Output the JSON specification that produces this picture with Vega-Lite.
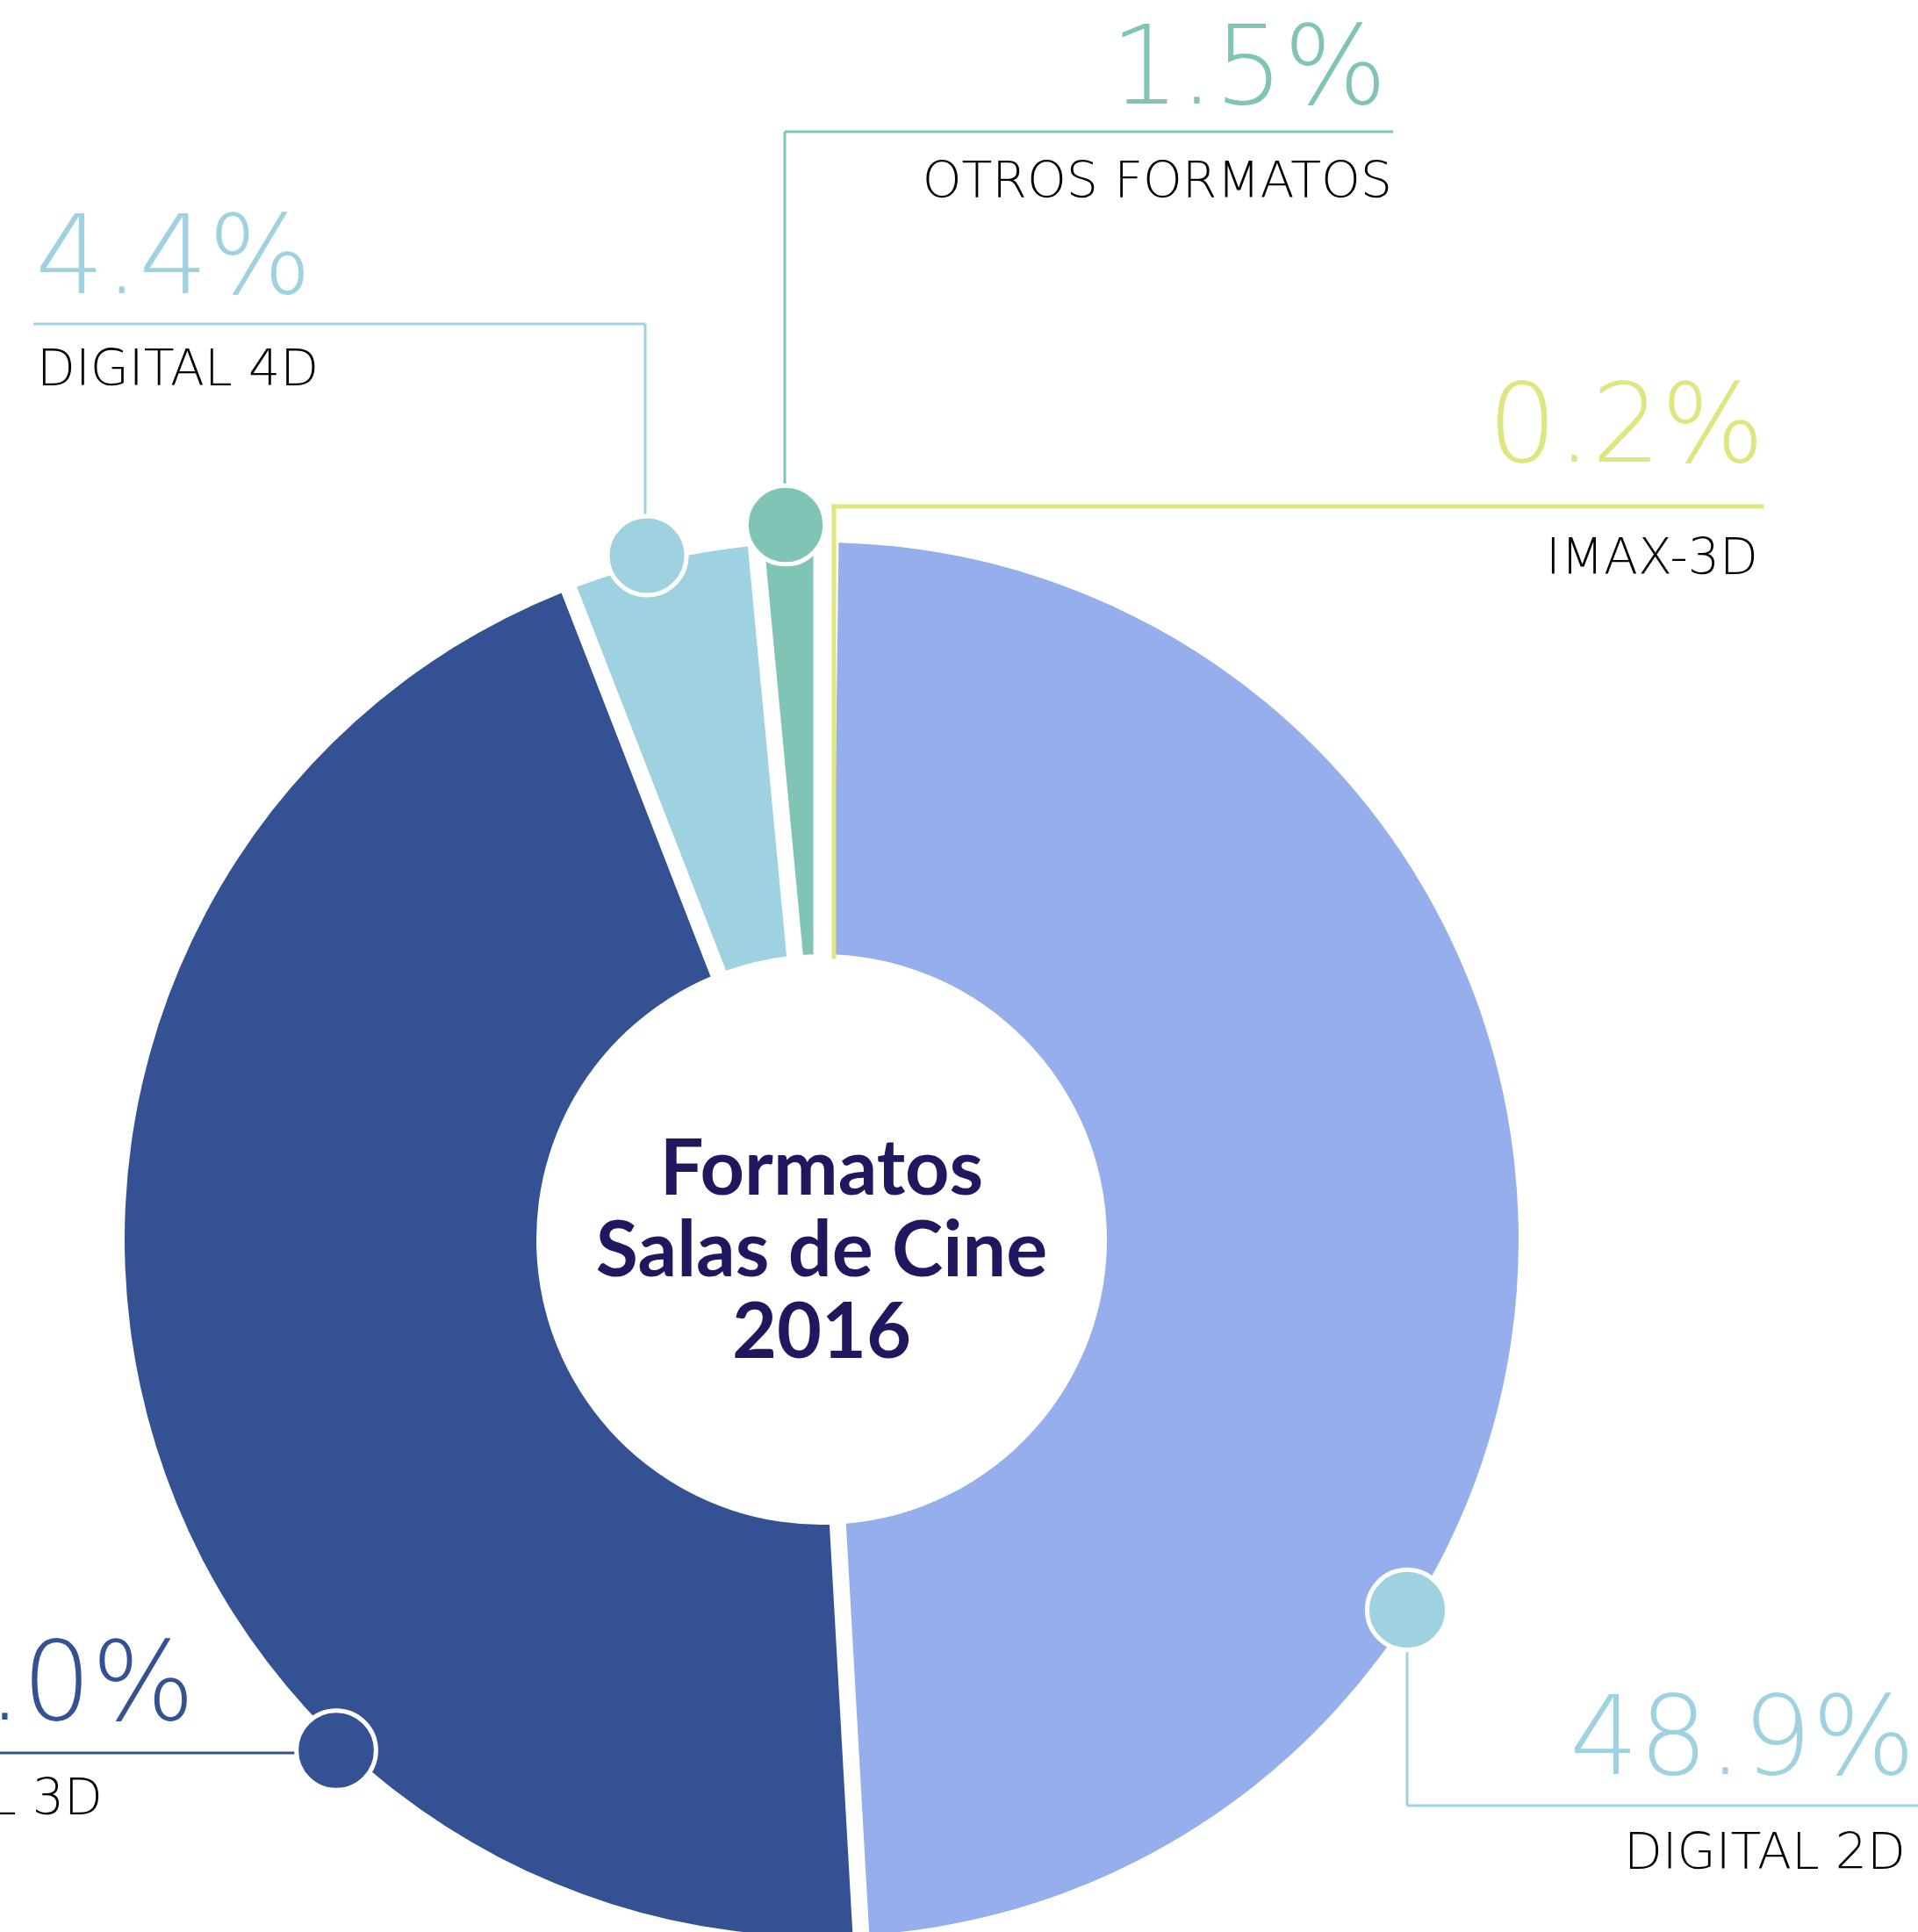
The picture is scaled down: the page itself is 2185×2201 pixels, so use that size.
{
  "$schema": "https://vega.github.io/schema/vega-lite/v6.json",
  "width": 2185,
  "height": 2201,
  "padding": 0,
  "autosize": {"type": "none"},
  "background": "#ffffff",
  "config": {"view": {"stroke": null}},
  "datasets": {
    "slices": [
      {"formato": "IMAX-3D", "pct": 0.2, "k": 1},
      {"formato": "DIGITAL 2D", "pct": 48.9, "k": 2},
      {"formato": "DIGITAL 3D", "pct": 45.0, "k": 3},
      {"formato": "DIGITAL 4D", "pct": 4.4, "k": 4},
      {"formato": "OTROS FORMATOS", "pct": 1.5, "k": 5}
    ],
    "leaders": [
      {"formato": "OTROS FORMATOS", "x": 894, "y": 150, "x2": 1587, "y2": 150},
      {"formato": "OTROS FORMATOS", "x": 894, "y": 150, "x2": 894, "y2": 597},
      {"formato": "DIGITAL 4D", "x": 38, "y": 369, "x2": 735, "y2": 369},
      {"formato": "DIGITAL 4D", "x": 735, "y": 369, "x2": 735, "y2": 633},
      {"formato": "IMAX-3D", "x": 950, "y": 577, "x2": 2007, "y2": 577},
      {"formato": "IMAX-3D", "x": 950, "y": 577, "x2": 950, "y2": 1090},
      {"formato": "DIGITAL 2D", "x": 1603, "y": 1834, "x2": 1603, "y2": 2057},
      {"formato": "DIGITAL 2D", "x": 1603, "y": 2057, "x2": 2185, "y2": 2057},
      {"formato": "DIGITAL 3D", "x": 0, "y": 1997, "x2": 383, "y2": 1997}
    ],
    "dots": [
      {"formato": "OTROS FORMATOS", "x": 895, "y": 598},
      {"formato": "DIGITAL 4D", "x": 737, "y": 633},
      {"formato": "DIGITAL 2D", "x": 1603, "y": 1834},
      {"formato": "DIGITAL 3D", "x": 383, "y": 1994}
    ],
    "labels": [
      {"formato": "OTROS FORMATOS", "valor": "1.5%", "x": 1580, "y": 118, "ny": 225, "nx": 1586, "lado": "der"},
      {"formato": "DIGITAL 4D", "valor": "4.4%", "x": 40, "y": 334, "ny": 439, "nx": 42, "lado": "izq"},
      {"formato": "IMAX-3D", "valor": "0.2%", "x": 2010, "y": 526, "ny": 654, "nx": 2003, "lado": "der"},
      {"formato": "DIGITAL 2D", "valor": "48.9%", "x": 2182, "y": 2021, "ny": 2129, "nx": 2171, "lado": "der"},
      {"formato": "DIGITAL 3D", "valor": "45.0%", "x": 222, "y": 1959, "ny": 2067, "nx": 117, "lado": "der"}
    ]
  },
  "resolve": {"scale": {"color": "independent", "size": "independent"}},
  "layer": [
    {
      "data": {"name": "slices"},
      "mark": {"type": "arc", "outerRadius": 794, "innerRadius": 325, "padAngle": 0.022},
      "encoding": {
        "x": {"datum": 936, "type": "quantitative", "scale": {"domain": [0, 2185], "nice": false, "zero": false}, "axis": null},
        "y": {"datum": 1412, "type": "quantitative", "scale": {"domain": [0, 2201], "nice": false, "zero": false, "reverse": true}, "axis": null},
        "theta": {"field": "pct", "type": "quantitative", "stack": true},
        "order": {"field": "k", "type": "quantitative"},
        "color": {
          "field": "formato", "type": "nominal", "legend": null,
          "scale": {"domain": ["IMAX-3D", "DIGITAL 2D", "DIGITAL 3D", "DIGITAL 4D", "OTROS FORMATOS"],
                    "range": ["#DDE67F", "#96AEEB", "#335193", "#9ED2E0", "#80C4B6"]}
        }
      }
    },
    {
      "data": {"name": "leaders"},
      "transform": [{"filter": "datum.formato != 'IMAX-3D'"}],
      "mark": {"type": "rule", "strokeWidth": 3},
      "encoding": {
        "x": {"field": "x", "type": "quantitative", "axis": null},
        "y": {"field": "y", "type": "quantitative", "axis": null},
        "x2": {"field": "x2"},
        "y2": {"field": "y2"},
        "color": {
          "field": "formato", "type": "nominal", "legend": null,
          "scale": {"domain": ["IMAX-3D", "DIGITAL 2D", "DIGITAL 3D", "DIGITAL 4D", "OTROS FORMATOS"],
                    "range": ["#DDE67F", "#9ED2E0", "#335193", "#9ED2E0", "#80C4B6"]}
        }
      }
    },
    {
      "data": {"name": "leaders"},
      "transform": [{"filter": "datum.formato == 'IMAX-3D'"}],
      "mark": {"type": "rule", "strokeWidth": 5, "strokeCap": "square", "color": "#DDE67F"},
      "encoding": {
        "x": {"field": "x", "type": "quantitative", "axis": null},
        "y": {"field": "y", "type": "quantitative", "axis": null},
        "x2": {"field": "x2"},
        "y2": {"field": "y2"}
      }
    },
    {
      "data": {"name": "dots"},
      "mark": {"type": "point", "shape": "circle", "filled": true, "opacity": 1, "stroke": "#ffffff", "strokeWidth": 5},
      "encoding": {
        "x": {"field": "x", "type": "quantitative", "axis": null},
        "y": {"field": "y", "type": "quantitative", "axis": null},
        "fill": {
          "field": "formato", "type": "nominal", "legend": null,
          "scale": {"domain": ["DIGITAL 2D", "DIGITAL 3D", "DIGITAL 4D", "OTROS FORMATOS"],
                    "range": ["#9ED2E0", "#335193", "#9ED2E0", "#80C4B6"]}
        },
        "size": {
          "field": "formato", "type": "ordinal", "legend": null,
          "scale": {"domain": ["DIGITAL 2D", "DIGITAL 3D", "DIGITAL 4D", "OTROS FORMATOS"],
                    "range": [8332, 8012, 5945, 3117]}
        }
      }
    },
    {
      "data": {"name": "labels"},
      "transform": [{"filter": "datum.lado == 'der'"}],
      "mark": {"type": "text", "align": "right", "baseline": "alphabetic", "font": "DejaVu Sans", "fontWeight": 200, "fontSize": 124},
      "encoding": {
        "x": {"field": "x", "type": "quantitative", "axis": null},
        "y": {"field": "y", "type": "quantitative", "axis": null},
        "text": {"field": "valor"},
        "color": {
          "field": "formato", "type": "nominal", "legend": null,
          "scale": {"domain": ["IMAX-3D", "DIGITAL 2D", "DIGITAL 3D", "DIGITAL 4D", "OTROS FORMATOS"],
                    "range": ["#DDE67F", "#9ED2E0", "#335193", "#9ED2E0", "#80C4B6"]}
        }
      }
    },
    {
      "data": {"name": "labels"},
      "transform": [{"filter": "datum.lado == 'izq'"}],
      "mark": {"type": "text", "align": "left", "baseline": "alphabetic", "font": "DejaVu Sans", "fontWeight": 200, "fontSize": 124},
      "encoding": {
        "x": {"field": "x", "type": "quantitative", "axis": null},
        "y": {"field": "y", "type": "quantitative", "axis": null},
        "text": {"field": "valor"},
        "color": {
          "field": "formato", "type": "nominal", "legend": null,
          "scale": {"domain": ["IMAX-3D", "DIGITAL 2D", "DIGITAL 3D", "DIGITAL 4D", "OTROS FORMATOS"],
                    "range": ["#DDE67F", "#9ED2E0", "#335193", "#9ED2E0", "#80C4B6"]}
        }
      }
    },
    {
      "data": {"name": "labels"},
      "transform": [{"filter": "datum.lado == 'der'"}],
      "mark": {"type": "text", "align": "right", "baseline": "alphabetic", "font": "DejaVu Sans", "fontWeight": 200, "fontSize": 57, "color": "#000000"},
      "encoding": {
        "x": {"field": "nx", "type": "quantitative", "axis": null},
        "y": {"field": "ny", "type": "quantitative", "axis": null},
        "text": {"field": "formato"}
      }
    },
    {
      "data": {"name": "labels"},
      "transform": [{"filter": "datum.lado == 'izq'"}],
      "mark": {"type": "text", "align": "left", "baseline": "alphabetic", "font": "DejaVu Sans", "fontWeight": 200, "fontSize": 57, "color": "#000000"},
      "encoding": {
        "x": {"field": "nx", "type": "quantitative", "axis": null},
        "y": {"field": "ny", "type": "quantitative", "axis": null},
        "text": {"field": "formato"}
      }
    },
    {
      "data": {"values": [{"titulo": "Formatos\nSalas de Cine\n2016"}]},
      "mark": {"type": "text", "align": "center", "baseline": "alphabetic", "lineBreak": "\n", "lineHeight": 93, "font": "Lato", "fontWeight": 700, "fontSize": 88, "color": "#1F185F"},
      "encoding": {
        "x": {"datum": 936, "type": "quantitative", "axis": null},
        "y": {"datum": 1361, "type": "quantitative", "axis": null},
        "text": {"field": "titulo"}
      }
    }
  ]
}
